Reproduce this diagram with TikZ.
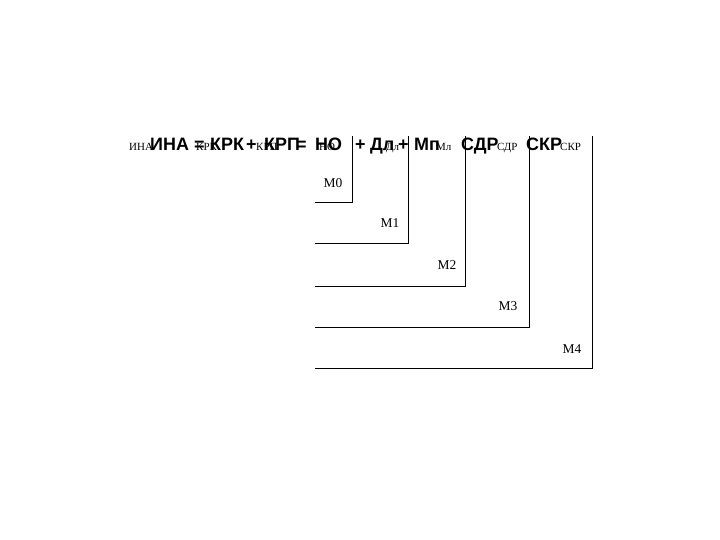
\documentclass[tikz,border=0pt]{standalone}
\usepackage{fontspec}
\setmainfont{Liberation Serif}
\newfontfamily\headsans{Liberation Sans}
\tikzset{
  bigterm/.style={anchor=base west, inner sep=0pt, font=\headsans\bfseries\fontsize{18}{18}\selectfont},
  smallterm/.style={anchor=base west, inner sep=0pt, font=\fontsize{11}{11}\selectfont},
  level/.style={inner sep=0pt, font=\fontsize{13.5}{14}\selectfont},
  bracket/.style={line width=0.9bp}
}
\begin{document}
\begin{tikzpicture}[x=1bp,y=-1bp]
    \useasboundingbox (0,0) rectangle (720,540);
    % formula, small serif layer
    \node[smallterm] (s1) at (129,151) {ИНА};
    \node[smallterm] (s2) at (196,151) {КРК};
    \node[smallterm] (s3) at (256,151) {КРП};
    \node[smallterm] (s4) at (319,151) {НО};
    \node[smallterm] (s5) at (386,151) {Дл};
    \node[smallterm] (s6) at (436,151) {Мл};
    \node[smallterm] (s7) at (497,151) {СДР};
    \node[smallterm] (s8) at (560,151) {СКР};
    % formula, bold layer
    \node[bigterm] (b1) at (150,151) {ИНА};
    \node[bigterm] (b2) at (194,151) {=};
    \node[bigterm] (b3) at (210,151) {КРК};
    \node[bigterm] (b4) at (246,151) {+};
    \node[bigterm] (b5) at (264,151) {КРП};
    \node[bigterm] (b6) at (296,151) {=};
    \node[bigterm] (b7) at (315,151) {НО};
    \node[bigterm] (b8) at (355,151) {+};
    \node[bigterm] (b9) at (370,151) {Дл};
    \node[bigterm] (b10) at (398,151) {+};
    \node[bigterm] (b11) at (414,151) {Мп};
    \node[bigterm] (b12) at (461,151) {СДР};
    \node[bigterm] (b13) at (526,151) {СКР};
    % brackets
    \draw[bracket] (315,202) -- (352,202) -- (352,136);
    \draw[bracket] (315,243) -- (408,243) -- (408,136);
    \draw[bracket] (315,286) -- (465,286) -- (465,136);
    \draw[bracket] (315,327) -- (529,327) -- (529,136);
    \draw[bracket] (315,368) -- (592,368) -- (592,136);
    \node[level] (m0) at (333,183) {М0};
    \node[level] (m1) at (390,223) {М1};
    \node[level] (m2) at (447,265) {М2};
    \node[level] (m3) at (508,306) {М3};
    \node[level] (m4) at (572,349) {М4};
\end{tikzpicture}
\end{document}
